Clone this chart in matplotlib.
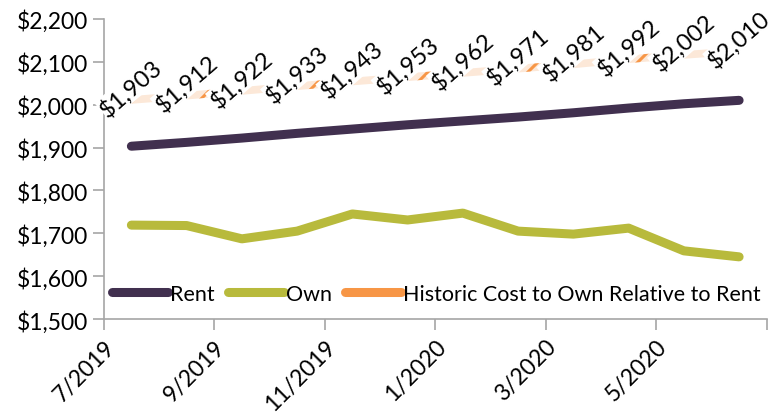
import matplotlib.pyplot as plt
import matplotlib.ticker as mticker

plt.rcParams['font.family'] = ['Lato', 'DejaVu Sans']
plt.rcParams['hatch.linewidth'] = 2.2

months = ['7/2019', '8/2019', '9/2019', '10/2019', '11/2019', '12/2019',
          '1/2020', '2/2020', '3/2020', '4/2020', '5/2020', '6/2020']
rent = [1903, 1912, 1922, 1933, 1943, 1953, 1962, 1971, 1981, 1992, 2002, 2010]
own = [1719, 1718, 1687, 1705, 1745, 1731, 1747, 1705, 1698, 1712, 1659, 1645]
historic = [2011, 2021, 2032, 2043, 2054, 2064, 2074, 2084, 2094, 2106, 2116, 2125]

c_rent = '#41304F'
c_own = '#B8BA3C'
c_hist = '#F79646'
c_axis = '#A6A6A6'

x = list(range(len(months)))

fig = plt.figure(figsize=(7.8, 4.14), dpi=100)
ax = fig.add_axes([0.133, 0.227, 0.85, 0.725])

ax.plot(x, rent, color=c_rent, lw=6.5, solid_capstyle='round', label='Rent', zorder=3)
ax.plot(x, own, color=c_own, lw=6.5, solid_capstyle='round', label='Own', zorder=3)

# historic series: pale band with orange diagonal hatch
lo = [v - 9 for v in historic]
hi = [v + 9 for v in historic]
ax.fill_between(x, lo, hi, facecolor='#FCE8D8', edgecolor=c_hist, hatch='/', lw=0, zorder=2)
ax.plot([], [], color=c_hist, lw=6.5, solid_capstyle='round',
        label='Historic Cost to Own Relative to Rent')

for xi, h, r in zip(x, historic, rent):
    ax.annotate(f'${r:,}', (xi, h), xytext=(0, 9), textcoords='offset points',
                ha='center', va='center', rotation=41, fontsize=17,
                bbox=dict(boxstyle='square,pad=0.05', fc='white', ec='none'),
                zorder=4)

ax.set_ylim(1500, 2200)
ax.set_xlim(-0.5, len(months) - 0.5)
ax.yaxis.set_major_locator(mticker.MultipleLocator(100))
ax.yaxis.set_major_formatter(mticker.FuncFormatter(lambda v, p: f'${v:,.0f}'))

tick_pos = [i - 0.5 for i in range(0, len(months) + 1, 2)]
tick_lab = [months[i] if i < len(months) else '' for i in range(0, len(months) + 1, 2)]
ax.set_xticks(tick_pos)
ax.set_xticklabels(tick_lab, rotation=45, ha='right', rotation_mode='anchor', fontsize=16.5)

for s in ['top', 'right']:
    ax.spines[s].set_visible(False)
for s in ['left', 'bottom']:
    ax.spines[s].set_color(c_axis)
    ax.spines[s].set_linewidth(1.2)
ax.tick_params(axis='both', colors=c_axis, labelcolor='black',
               length=8, width=1.2, direction='out')
ax.tick_params(axis='y', labelsize=16.5)
ax.tick_params(axis='x', pad=4)

ax.legend(loc='lower left', bbox_to_anchor=(-0.01, 0.0), ncol=3, frameon=False,
          fontsize=15.5, handlelength=2.6, handletextpad=0.1, columnspacing=0.6,
          borderpad=0.2)

fig.savefig('out.png', dpi=100)
